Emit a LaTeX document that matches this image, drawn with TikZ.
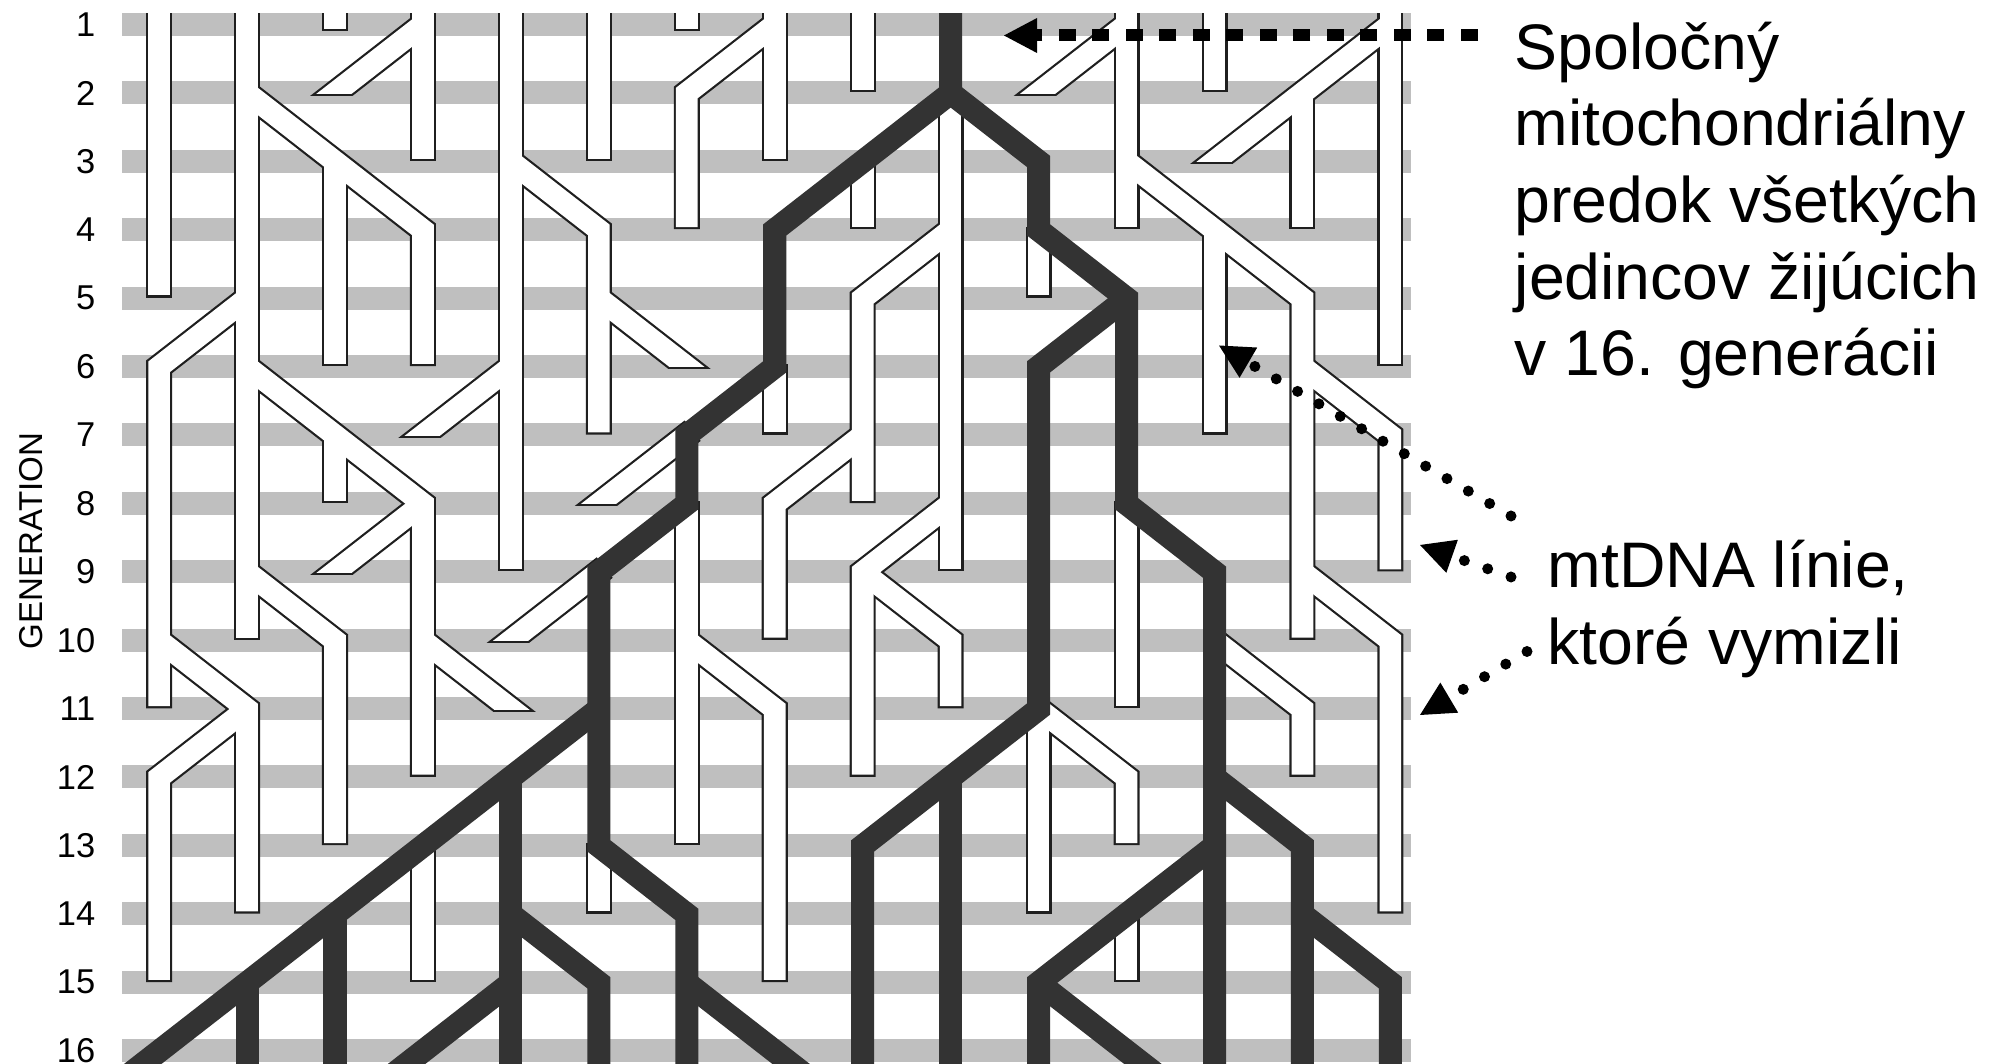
\documentclass[tikz,border=0pt]{standalone}
\usepackage{fontspec}
\setmainfont{Liberation Sans}
\usetikzlibrary{arrows.meta}
\tikzset{
  wout/.style={line width=0.26cm, draw=black!88, line cap=rect, line join=miter},
  win/.style={line width=0.216cm, draw=white, line cap=rect, line join=miter},
  dk/.style={line width=0.23cm, draw=black!80, line cap=rect, line join=miter},
  genbar/.style={fill=black!25, draw=none},
  genlabel/.style={font=\fontsize{9.8}{11}\selectfont, anchor=east, inner sep=0pt},
  note/.style={font=\fontsize{18.3}{21.8}\selectfont, align=left, anchor=base west, inner sep=0pt},
  dotarrow/.style={line width=0.11cm, line cap=round, dash pattern=on 0pt off 0.247cm,
     -{Triangle[length=0.34cm,width=0.35cm,line width=0pt]}},
  dasharrow/.style={line width=0.12cm, dash pattern=on 0.17cm off 0.165cm,
     -{Triangle[length=0.33cm,width=0.35cm,line width=0pt]}},
}
\newcommand\spur[2]{\begin{scope}\clip (-1,-1) rectangle (17,{#2+\spurcut});\draw[tube] #1;\end{scope}}
\newcommand\WhiteTubes{%
 % tree rooted in column 2
 \draw[tube] (1,0.5) -- (1,4.8);
 \draw[tube] (2,0.5) -- (2,9.8);
 \draw[tube] (2.12,2.12) -- (3,3) -- (4,4) -- (4,5.8);
 \draw[tube] (3,3.12) -- (3,5.8);
 \draw[tube] (1.88,5.12) -- (1,6) -- (1,10.8);
 \draw[tube] (1.12,10.12) -- (2,11) -- (2,13.8);
 \draw[tube] (1.88,11.12) -- (1,12) -- (1,14.8);
 \draw[tube] (2.12,6.12) -- (3,7) -- (4,8) -- (4,11.8);
 \draw[tube] (3,7.12) -- (3,7.8);
 \spur{(3.88,8.12) -- (3,9) -- (2.7,9.3)}{9}
 \spur{(4.12,10.12) -- (5,11) -- (5.3,11.3)}{11}
 \draw[tube] (2.12,9.12) -- (3,10) -- (3,12.8);
 % other early lineages
 \draw[tube] (3,0.5) -- (3,0.9);
 \draw[tube] (4,0.5) -- (4,2.8);
 \spur{(3.88,1.12) -- (3,2) -- (2.7,2.3)}{2}
 \draw[tube] (5,0.5) -- (5,8.8);
 \draw[tube] (5.12,3.12) -- (6,4) -- (6,6.8);
 \spur{(6.12,5.12) -- (7,6) -- (7.3,6.3)}{6}
 \spur{(4.88,6.12) -- (4,7) -- (3.7,7.3)}{7}
 \draw[tube] (6,0.5) -- (6,2.8);
 \draw[tube] (7,0.5) -- (7,0.9);
 \draw[tube] (8,0.5) -- (8,2.8);
 \draw[tube] (7.88,1.12) -- (7,2) -- (7,3.8);
 \draw[tube] (9,0.5) -- (9,1.8);
 \draw[tube] (12,0.5) -- (12,3.8);
 \spur{(11.88,1.12) -- (11,2) -- (10.7,2.3)}{2}
 \draw[tube] (12.12,3.12) -- (13,4) -- (14,5) -- (14,9.8);
 \draw[tube] (13,4.12) -- (13,6.8);
 \draw[tube] (14.12,6.12) -- (15,7) -- (15,8.8);
 \draw[tube] (14.12,9.12) -- (15,10) -- (15,13.8);
 \draw[tube] (13,0.5) -- (13,1.8);
 \draw[tube] (15,0.5) -- (15,5.8);
 \spur{(14.88,1.12) -- (14,2) -- (13,3) -- (12.7,3.3)}{3}
 \draw[tube] (14,2.12) -- (14,3.8);
 % extinct lines leaving the surviving lineage
 \draw[tube] (10,2.15) -- (10,8.8);
 \draw[tube] (9.88,4.12) -- (9,5) -- (9,7.8);
 \draw[tube] (8.88,7.12) -- (8,8) -- (8,9.8);
 \draw[tube] (9.88,8.12) -- (9,9) -- (9,11.8);
 \draw[tube] (9.12,9.12) -- (10,10) -- (10,10.8);
 \draw[tube] (9,3.15) -- (9,3.8);
 \draw[tube] (11,4.15) -- (11,4.8);
 \draw[tube] (8,6.15) -- (8,6.8);
 \spur{(6.95,7.05) -- (6,8) -- (5.7,8.3)}{8}
 \draw[tube] (7,8.15) -- (7,12.8);
 \draw[tube] (7.12,10.12) -- (8,11) -- (8,14.8);
 \spur{(5.95,9.05) -- (5,10) -- (4.7,10.3)}{10}
 \draw[tube] (6,13.15) -- (6,13.8);
 \draw[tube] (4,13.15) -- (4,14.8);
 \draw[tube] (12,8.15) -- (12,10.8);
 \draw[tube] (13.12,10.12) -- (14,11) -- (14,11.8);
 \draw[tube] (11,11.15) -- (11,13.8);
 \draw[tube] (11.12,11.12) -- (12,12) -- (12,12.8);
 \draw[tube] (12,14.15) -- (12,14.8);
}
\begin{document}
\begin{tikzpicture}[x=0.01cm, y=-0.01cm]
\useasboundingbox (0,0) rectangle (2011,1064);
\fill[white] (0,0) rectangle (2011,1064);
\foreach \n in {1,...,16} {
  \pgfmathsetmacro\yy{24.6+68.4*(\n-1)}
  \fill[genbar] (122,\yy-11.5) rectangle (1411,\yy+11.5);
  \node[genlabel] (g\n) at (96,\yy) {\n};
}
\node[rotate=90, inner sep=0pt, font=\fontsize{9.4}{11}\selectfont] (genlab) at (31,541) {GENERATION};
\begin{scope}
  \clip (0,14) rectangle (2011,1064);
  \begin{scope}[shift={(0.711cm,0.438cm)}, x=0.879cm, y=-0.684cm]
    \tikzset{tube/.style=wout}\def\spurcut{0.03}
    \WhiteTubes
    \tikzset{tube/.style=win}\def\spurcut{0.0}
    \WhiteTubes
    % surviving mtDNA lineages
    \draw[dk] (10,0.5) -- (10,2) -- (9,3) -- (8,4) -- (8,6) -- (7,7) -- (7,8) -- (6,9) -- (6,13) -- (7,14) -- (7,16.6);
    \draw[dk] (10.12,2.12) -- (11,3) -- (11,4) -- (12,5) -- (12,8) -- (13,9) -- (13,16.6);
    \draw[dk] (11.88,5.12) -- (11,6) -- (11,11) -- (10,12) -- (9,13) -- (9,16.6);
    \draw[dk] (10,12.12) -- (10,16.6);
    \draw[dk] (5.88,11.12) -- (5,12) -- (4,13) -- (3,14) -- (2,15) -- (1,16) -- (0.4,16.6);
    \draw[dk] (5,12.12) -- (5,16.6);
    \draw[dk] (5.12,14.12) -- (6,15) -- (6,16.6);
    \draw[dk] (4.88,15.12) -- (4,16) -- (3.4,16.6);
    \draw[dk] (3,14.12) -- (3,16.6);
    \draw[dk] (2,15.12) -- (2,16.6);
    \draw[dk] (7.12,15.12) -- (8,16) -- (8.6,16.6);
    \draw[dk] (13.12,12.12) -- (14,13) -- (14,16.6);
    \draw[dk] (14.12,14.12) -- (15,15) -- (15,16.6);
    \draw[dk] (12.88,13.12) -- (12,14) -- (11,15) -- (11,16.6);
    \draw[dk] (11.12,15.12) -- (12,16) -- (12.6,16.6);
  \end{scope}
\end{scope}
% annotations (node base = baseline of the last line)
\node[note] (t1) at (1514,375.8) {Spoločný\\mitochondriálny\\predok všetkých\\jedincov žijúcich\\v 16. generácii};
\node[note] (t2) at (1547,664.6) {mtDNA línie,\\ktoré vymizli};
\coordinate (a1s) at (1478,35.5);   \coordinate (a1e) at (1004,35.5);
\coordinate (a2s) at (1511,516);    \coordinate (a2e) at (1219,345.5);
\coordinate (a3s) at (1511,577);    \coordinate (a3e) at (1420,545);
\coordinate (a4s) at (1527,651.5);  \coordinate (a4e) at (1420,715);
\draw[dasharrow] (a1s) -- (a1e);
\draw[dotarrow] (a2s) -- (a2e);
\draw[dotarrow] (a3s) -- (a3e);
\draw[dotarrow] (a4s) -- (a4e);
\end{tikzpicture}
\end{document}
